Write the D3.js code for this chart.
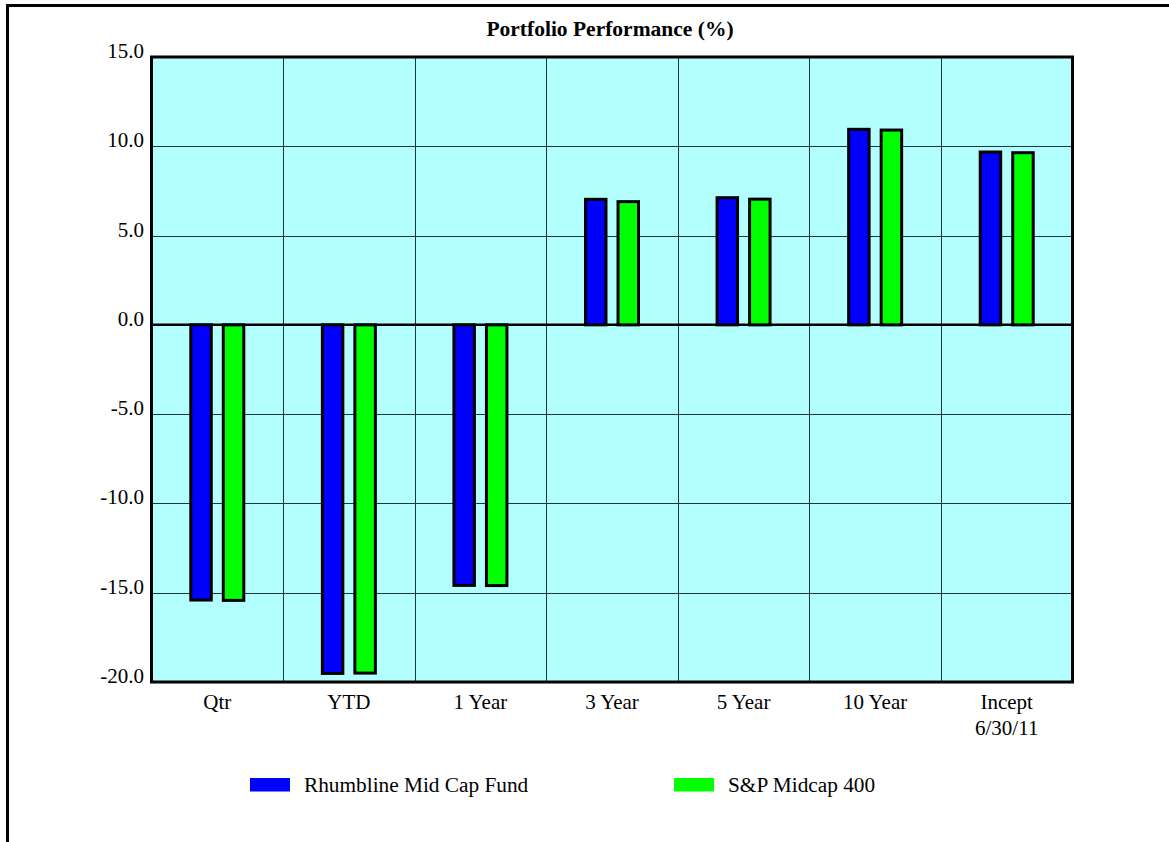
<!DOCTYPE html>
<html>
<head>
<meta charset="utf-8">
<script src="https://cdn.jsdelivr.net/npm/d3@7"></script>
<style>
  html, body { margin: 0; padding: 0; background: #fff; }
  svg { display: block; }
  text { font-family: "Liberation Serif", "Times New Roman", serif; fill: #000; }
</style>
</head>
<body>
<svg id="chart" width="1169" height="842"></svg>
<script>
// ---- data ----
const categories = ["Qtr", "YTD", "1 Year", "3 Year", "5 Year", "10 Year", "Incept\n6/30/11"];
const seriesNames = ["Rhumbline Mid Cap Fund", "S&P Midcap 400"];
const fundValues  = [-15.41, -19.52, -14.59, 7.03, 7.12, 10.95, 9.68];
const indexValues = [-15.43, -19.50, -14.60, 6.90, 7.04, 10.91, 9.64];
const yTicks = [-20, -15, -10, -5, 0, 5, 10, 15];
const chartTitle = "Portfolio Performance (%)";
const seriesColors = ["#0000FF", "#00FF00"];

const svg = d3.select("#chart");
const W = 1169, H = 842;
const plot = { left: 151.5, top: 57, right: 1072.5, bottom: 682 };

// outer frame (top + left only)
svg.append("path")
  .attr("d", `M7.5,${H} V5.5 H${W}`)
  .attr("fill", "none").attr("stroke", "#000").attr("stroke-width", 3);

// title
svg.append("text")
  .attr("x", 610).attr("y", 36)
  .attr("text-anchor", "middle")
  .attr("font-size", 21.5).attr("font-weight", "bold")
  .text(chartTitle);

const x0 = d3.scaleBand().domain(categories).range([plot.left, plot.right]).padding(0);
const bw = x0.bandwidth();
const x1 = d3.scaleBand().domain(seriesNames).range([bw / 2 - 26.5, bw / 2 + 26.5]).paddingInner(0.37).paddingOuter(0);
const y = d3.scaleLinear().domain([-20, 15]).range([plot.bottom, plot.top]);

// background
svg.append("rect")
  .attr("x", plot.left).attr("y", plot.top)
  .attr("width", plot.right - plot.left).attr("height", plot.bottom - plot.top)
  .attr("fill", "#B3FFFF");

// horizontal gridlines
svg.append("g").selectAll("line").data(yTicks).join("line")
  .attr("x1", plot.left).attr("x2", plot.right)
  .attr("y1", d => Math.round(y(d)) + 0.5).attr("y2", d => Math.round(y(d)) + 0.5)
  .attr("stroke", "#1a3a3a").attr("stroke-width", 1);

// vertical gridlines at category boundaries
svg.append("g").selectAll("line").data(categories.slice(1)).join("line")
  .attr("x1", d => Math.round(x0(d)) + 0.5).attr("x2", d => Math.round(x0(d)) + 0.5)
  .attr("y1", plot.top).attr("y2", plot.bottom)
  .attr("stroke", "#1a3a3a").attr("stroke-width", 1);

// y tick labels (ASCII hyphen for negatives)
const fmt = d3.formatLocale({ decimal: ".", thousands: ",", grouping: [3], currency: ["", ""], minus: "-" }).format(".1f");
svg.append("g").selectAll("text").data(yTicks).join("text")
  .attr("x", 144).attr("y", d => y(d) + 1)
  .attr("text-anchor", "end")
  .attr("font-size", 21)
  .text(d => fmt(d));

// zero line
svg.append("line")
  .attr("x1", plot.left).attr("x2", plot.right)
  .attr("y1", y(0)).attr("y2", y(0))
  .attr("stroke", "#000").attr("stroke-width", 2.5);

// bars
const rows = categories.map((c, i) => ({ cat: c, vals: [fundValues[i], indexValues[i]] }));
const groups = svg.append("g").selectAll("g").data(rows).join("g")
  .attr("transform", d => `translate(${x0(d.cat)},0)`);
groups.selectAll("rect").data(d => d.vals.map((v, j) => ({ key: seriesNames[j], v, j }))).join("rect")
  .attr("x", d => x1(d.key))
  .attr("width", x1.bandwidth())
  .attr("y", d => Math.min(y(d.v), y(0)))
  .attr("height", d => Math.abs(y(d.v) - y(0)))
  .attr("fill", d => seriesColors[d.j])
  .attr("stroke", "#000").attr("stroke-width", 3);

// plot border
svg.append("rect")
  .attr("x", plot.left).attr("y", plot.top)
  .attr("width", plot.right - plot.left).attr("height", plot.bottom - plot.top)
  .attr("fill", "none").attr("stroke", "#000").attr("stroke-width", 3);

// category labels
const catLabels = svg.append("g").selectAll("text").data(categories).join("text")
  .attr("x", d => x0(d) + bw / 2)
  .attr("y", 709)
  .attr("text-anchor", "middle")
  .attr("font-size", 21);
catLabels.each(function (d) {
  const parts = d.split("\n");
  const t = d3.select(this);
  parts.forEach((p, k) => {
    t.append("tspan").attr("x", x0(d) + bw / 2).attr("dy", k === 0 ? 0 : 26).text(p);
  });
});

// legend
const legendX = [250, 674];
const legend = svg.append("g").selectAll("g").data(seriesNames).join("g")
  .attr("transform", (d, i) => `translate(${legendX[i]},778)`);
legend.append("rect")
  .attr("width", 40).attr("height", 13.5)
  .attr("fill", (d, i) => seriesColors[i]);
legend.append("text")
  .attr("x", 54).attr("y", 13.5)
  .attr("font-size", 21.3)
  .text(d => d);
</script>
</body>
</html>
